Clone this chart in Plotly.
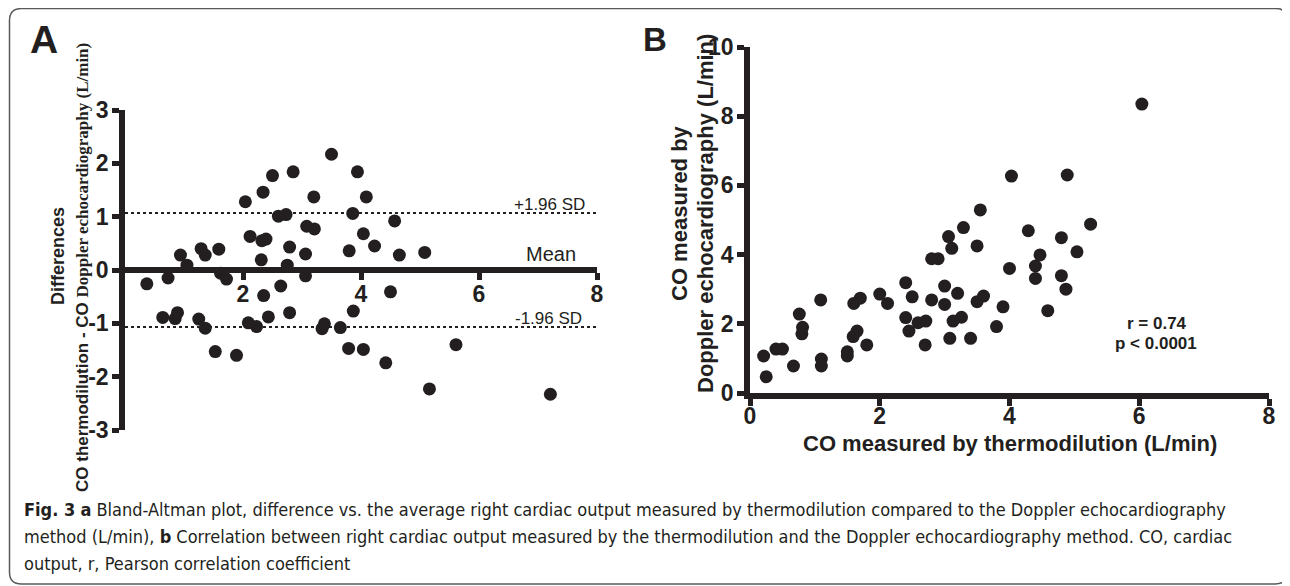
import plotly.graph_objects as go

# The page body adds an 8px margin, so the figure is drawn 8px smaller and every
# reference pixel position is shifted by that offset.
OFF = 8
W, H = 1290 - OFF, 586 - OFF
INK = "#231f20"
SANS = "Liberation Sans"
SERIF = "Liberation Serif"

# Panel A: Bland-Altman (average CO, difference)
ba_mean = [0.37, 0.73, 0.94, 1.05, 0.64, 0.85, 0.89, 1.29, 1.36, 1.59, 1.62, 1.72,
           1.25, 1.36, 1.53, 1.89, 2.04, 2.34, 2.50, 2.85, 3.50, 3.94, 4.09, 3.20,
           2.60, 2.73, 3.86, 2.12, 2.32, 2.39, 2.79, 3.08, 3.21, 4.04, 3.80, 3.06,
           2.31, 2.75, 3.06, 2.64, 2.35, 2.43, 2.79, 2.09, 2.23, 3.38, 3.34, 3.65,
           3.87, 3.79, 4.04, 4.23, 4.57, 4.65, 5.08, 4.50, 4.42, 5.61, 5.16, 7.21]
ba_diff = [-0.26, -0.15, 0.28, 0.09, -0.89, -0.91, -0.80, 0.40, 0.28, 0.39, -0.06, -0.17,
           -0.92, -1.09, -1.53, -1.60, 1.28, 1.46, 1.77, 1.84, 2.17, 1.84, 1.37, 1.37,
           1.01, 1.04, 1.06, 0.63, 0.55, 0.58, 0.43, 0.82, 0.77, 0.68, 0.36, 0.30,
           0.19, 0.09, -0.11, -0.30, -0.48, -0.88, -0.80, -0.99, -1.06, -1.01, -1.10, -1.08,
           -0.77, -1.47, -1.49, 0.45, 0.92, 0.28, 0.33, -0.41, -1.74, -1.40, -2.23, -2.33]
ba_mean_line = 0.0
ba_sd_upper = 1.07
ba_sd_lower = -1.07

# Panel B: correlation (thermodilution, Doppler)
co_thermo = [0.21, 0.25, 0.40, 0.50, 0.67, 0.76, 0.81, 0.80, 1.09, 1.10, 1.10, 1.50,
             1.50, 1.59, 1.65, 1.80, 1.60, 1.70, 2.00, 2.12, 2.40, 2.50, 2.40, 2.45,
             2.59, 2.71, 2.70, 2.80, 2.80, 2.90, 3.00, 3.00, 3.06, 3.11, 3.20, 3.13,
             3.26, 3.08, 3.29, 3.55, 3.50, 3.50, 3.60, 3.40, 3.80, 3.90, 4.00, 4.03,
             4.29, 4.40, 4.47, 4.40, 4.59, 4.80, 4.80, 4.87, 4.89, 5.04, 5.25, 6.04]
co_doppler = [1.07, 0.47, 1.27, 1.27, 0.78, 2.28, 1.90, 1.71, 2.69, 0.98, 0.78, 1.19,
              1.07, 1.63, 1.79, 1.39, 2.59, 2.74, 2.86, 2.59, 3.19, 2.78, 2.18, 1.79,
              2.03, 2.08, 1.39, 2.69, 3.88, 3.88, 3.09, 2.56, 4.52, 4.18, 2.88, 2.08,
              2.19, 1.58, 4.78, 5.29, 4.25, 2.64, 2.80, 1.58, 1.92, 2.49, 3.60, 6.27,
              4.69, 3.67, 3.99, 3.31, 2.38, 4.49, 3.39, 3.00, 6.30, 4.08, 4.88, 8.35]

a_xticks = [2, 4, 6, 8]
a_yticks = [-3, -2, -1, 0, 1, 2, 3]
b_ticks_x = [0, 2, 4, 6, 8]
b_ticks_y = [0, 2, 4, 6, 8, 10]

def px(x):
    return (x - OFF) / W

def py(y):
    return 1 - (y - OFF) / H

def bold_labels(vals):
    return [f"<b>{v}</b>" for v in vals]

fig = go.Figure()
fig.add_trace(go.Scatter(x=ba_mean, y=ba_diff, mode="markers", xaxis="x", yaxis="y",
                         marker=dict(color=INK, size=13, line=dict(width=0))))
fig.add_trace(go.Scatter(x=co_thermo, y=co_doppler, mode="markers", xaxis="x2", yaxis="y2",
                         marker=dict(color=INK, size=13, line=dict(width=0))))

axis_common = dict(showline=True, linewidth=5.5, linecolor=INK, ticks="outside",
                   ticklen=7, tickwidth=4.5, tickcolor=INK, showgrid=False,
                   zeroline=False, fixedrange=True, automargin=False)
tick_font = dict(family=SANS, size=23, color=INK)

fig.update_layout(
    template="none",
    width=W, height=H, margin=dict(l=0, r=0, t=0, b=0, pad=0, autoexpand=False),
    paper_bgcolor="white", plot_bgcolor="white", showlegend=False,
    xaxis=dict(domain=[px(125), px(597)], range=[0, 8], tickvals=a_xticks,
               ticktext=bold_labels(a_xticks), ticklabelstandoff=-5,
               anchor="free", position=py(270), tickfont=tick_font, **axis_common),
    yaxis=dict(domain=[py(430), py(110)], range=[-3, 3], tickvals=a_yticks,
               ticktext=bold_labels(a_yticks), ticklabelstandoff=-1,
               anchor="x", tickfont=tick_font, **axis_common),
    xaxis2=dict(domain=[px(750), px(1269)], range=[0, 8], tickvals=b_ticks_x,
                ticktext=bold_labels(b_ticks_x), ticklabelstandoff=-9,
                anchor="y2", tickfont=tick_font, **axis_common),
    yaxis2=dict(domain=[py(393), py(47)], range=[0, 10], tickvals=b_ticks_y,
                ticktext=bold_labels(b_ticks_y), ticklabelstandoff=-1,
                anchor="x2", tickfont=tick_font, **axis_common),
)

# limit-of-agreement lines
for yv in (ba_sd_upper, ba_sd_lower):
    fig.add_shape(type="line", xref="x", yref="y", x0=0, x1=8, y0=yv, y1=yv,
                  line=dict(color=INK, width=2, dash="dot"))

# rounded frame
x0, x1, y0, y1, r = 9.5, 1287.5, 8.5, 584, 12
def P(x, y):
    return f"{px(x):.6f},{py(y):.6f}"
path = (f"M {P(x0 + r, y0)} L {P(x1 - r, y0)} Q {P(x1, y0)} {P(x1, y0 + r)} "
        f"L {P(x1, y1 - r)} Q {P(x1, y1)} {P(x1 - r, y1)} "
        f"L {P(x0 + r, y1)} Q {P(x0, y1)} {P(x0, y1 - r)} "
        f"L {P(x0, y0 + r)} Q {P(x0, y0)} {P(x0 + r, y0)} Z")
fig.add_shape(type="path", xref="paper", yref="paper", path=path,
              line=dict(color="#58595b", width=1.5))

def ann(text, x, y, size, xanchor="center", yanchor="middle", angle=0, weight="normal",
        family=SANS, align="center"):
    if weight == "bold":
        text = f"<b>{text}</b>"
    fig.add_annotation(text=text, x=px(x), y=py(y), xref="paper", yref="paper",
                       showarrow=False, xanchor=xanchor, yanchor=yanchor, textangle=angle,
                       align=align,
                       font=dict(family=family, size=size, color=INK))

# panel letters
ann("A", 43.5, 39, 39, weight="bold")
ann("B", 655, 40, 33, weight="bold")

# Panel A labels
ann("Differences", 58, 256, 18, angle=-90, weight="bold")
ann(f"<span style='font-family:{SANS}'>CO thermodilution - CO </span>"
    f"<span style='font-family:{SERIF}'>Doppler echocardiography (L/min)</span>",
    82, 268, 17, angle=-90, weight="bold")
ann("+1.96 SD", 587, 204, 17, xanchor="right")
ann("Mean", 578, 254, 20, xanchor="right")
ann("-1.96 SD", 584, 318, 17, xanchor="right")

# Panel B labels
ann("CO measured by", 679, 213, 22, angle=-90, weight="bold")
ann("Doppler echocardiography (L/min)", 705, 214, 22, angle=-90, weight="bold")
ann("CO measured by thermodilution (L/min)", 1010, 443, 22, weight="bold")
ann("r = 0.74", 1157, 323, 17, weight="bold")
ann("p < 0.0001", 1156, 343, 17, weight="bold")

# caption
CAP = "Liberation Sans Narrow, DejaVu Sans Condensed, Roboto Condensed, Roboto"
cap_lines = [
    "<b>Fig. 3</b> <b>a</b> Bland-Altman plot, difference vs. the average right cardiac output "
    "measured by thermodilution compared to the Doppler echocardiography",
    "method (L/min), <b>b</b> Correlation between right cardiac output measured by the "
    "thermodilution and the Doppler echocardiography method. CO, cardiac",
    "output, r, Pearson correlation coefficient",
]
for i, line in enumerate(cap_lines):
    ann(line, 22, 509 + 27 * i, 18, xanchor="left", family=CAP, align="left")

fig.write_html("out.html")
